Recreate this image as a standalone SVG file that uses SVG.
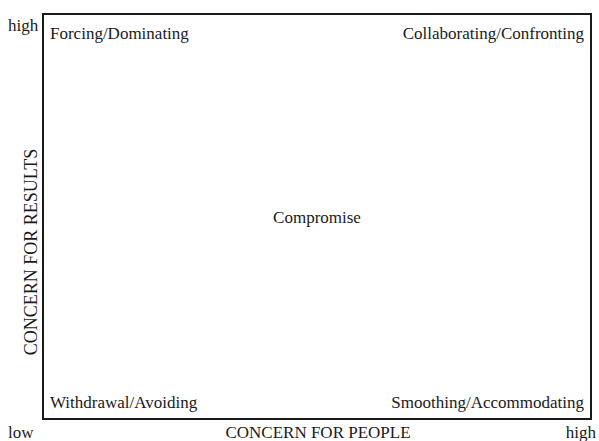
<svg xmlns="http://www.w3.org/2000/svg" width="599" height="441" viewBox="0 0 599 441">
<style>
text{font-family:"Liberation Serif","Times New Roman",serif;font-size:17px;fill:#1a1a1a}
</style>
<rect width="599" height="441" fill="#fff"/>
<g id="frame"><rect x="43" y="14" width="548" height="405" fill="none" stroke="#1a1a1a" stroke-width="2"/></g>
<g id="forcing"><text x="50" y="39">Forcing/Dominating</text></g>
<g id="collaborating"><text x="584" y="39" text-anchor="end">Collaborating/Confronting</text></g>
<g id="compromise"><text x="317" y="223" text-anchor="middle">Compromise</text></g>
<g id="withdrawal"><text x="50" y="408">Withdrawal/Avoiding</text></g>
<g id="smoothing"><text x="584" y="408" text-anchor="end">Smoothing/Accommodating</text></g>
<g id="axes">
<text x="8" y="31">high</text>
<text x="8" y="438">low</text>
<text x="596" y="438" text-anchor="end">high</text>
<text x="318" y="438" text-anchor="middle">CONCERN FOR PEOPLE</text>
<text transform="translate(37,252) rotate(-90)" text-anchor="middle" style="font-size:18px">CONCERN FOR RESULTS</text>
</g>
</svg>
